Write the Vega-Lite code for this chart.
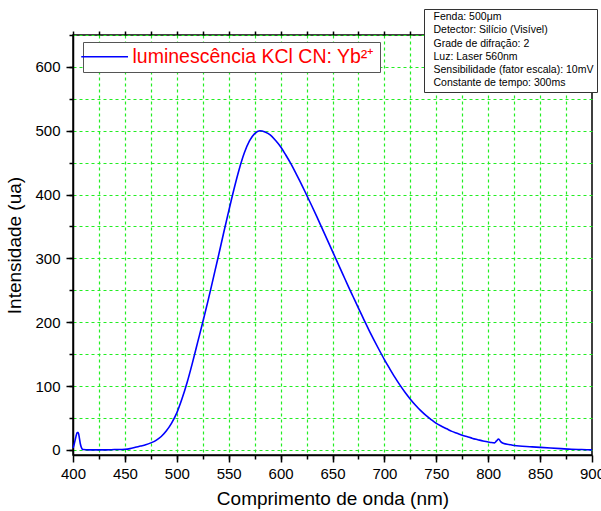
{
  "$schema": "https://vega.github.io/schema/vega-lite/v6.json",
  "autosize": "none",
  "width": 519,
  "height": 420,
  "padding": {"left": 73, "top": 35, "right": 9, "bottom": 56},
  "background": "white",
  "config": {
    "font": "Liberation Sans",
    "view": {"stroke": "black", "strokeWidth": 1.5},
    "axis": {"domainColor": "black", "tickColor": "black", "domainWidth": 1.5, "tickWidth": 1.5, "labelColor": "black", "titleColor": "black", "labelFont": "Liberation Sans", "titleFont": "Liberation Sans", "titleFontWeight": "normal", "labelFlush": false}
  },
  "datasets": {
    "spec": [
      {"wl": 400, "int": 3}, {"wl": 401, "int": 8}, {"wl": 402, "int": 15}, {"wl": 403, "int": 22},
      {"wl": 404, "int": 27}, {"wl": 405, "int": 27}, {"wl": 406, "int": 20}, {"wl": 407, "int": 10},
      {"wl": 408, "int": 4}, {"wl": 409, "int": 1}, {"wl": 410, "int": 0.5}, {"wl": 415, "int": 0},
      {"wl": 420, "int": 0}, {"wl": 430, "int": 0}, {"wl": 440, "int": 0.5}, {"wl": 450, "int": 1},
      {"wl": 455, "int": 2}, {"wl": 460, "int": 4}, {"wl": 465, "int": 6}, {"wl": 470, "int": 8},
      {"wl": 475, "int": 11}, {"wl": 480, "int": 15}, {"wl": 485, "int": 21}, {"wl": 490, "int": 30},
      {"wl": 495, "int": 42}, {"wl": 500, "int": 58}, {"wl": 505, "int": 80}, {"wl": 510, "int": 106},
      {"wl": 515, "int": 136}, {"wl": 520, "int": 168}, {"wl": 525, "int": 200}, {"wl": 530, "int": 233},
      {"wl": 535, "int": 268}, {"wl": 540, "int": 303}, {"wl": 545, "int": 339}, {"wl": 550, "int": 374},
      {"wl": 555, "int": 408}, {"wl": 560, "int": 439}, {"wl": 565, "int": 465}, {"wl": 570, "int": 484},
      {"wl": 575, "int": 495.5}, {"wl": 580, "int": 500}, {"wl": 585, "int": 498}, {"wl": 590, "int": 493.5},
      {"wl": 595, "int": 485}, {"wl": 600, "int": 475}, {"wl": 605, "int": 462}, {"wl": 610, "int": 448},
      {"wl": 615, "int": 432.5}, {"wl": 620, "int": 416.5}, {"wl": 625, "int": 399.5}, {"wl": 630, "int": 382.5},
      {"wl": 635, "int": 365}, {"wl": 640, "int": 347}, {"wl": 645, "int": 329}, {"wl": 650, "int": 311},
      {"wl": 655, "int": 293}, {"wl": 660, "int": 275}, {"wl": 665, "int": 257}, {"wl": 670, "int": 239.5},
      {"wl": 675, "int": 222}, {"wl": 680, "int": 205}, {"wl": 685, "int": 188}, {"wl": 690, "int": 172},
      {"wl": 695, "int": 156.5}, {"wl": 700, "int": 141.5}, {"wl": 705, "int": 127.5}, {"wl": 710, "int": 114},
      {"wl": 715, "int": 101.5}, {"wl": 720, "int": 90}, {"wl": 725, "int": 79.5}, {"wl": 730, "int": 70},
      {"wl": 735, "int": 61.5}, {"wl": 740, "int": 54}, {"wl": 745, "int": 47.5}, {"wl": 750, "int": 41.5},
      {"wl": 755, "int": 37}, {"wl": 760, "int": 33}, {"wl": 765, "int": 29}, {"wl": 770, "int": 26},
      {"wl": 775, "int": 23}, {"wl": 780, "int": 20.5}, {"wl": 785, "int": 18}, {"wl": 790, "int": 16},
      {"wl": 795, "int": 14}, {"wl": 800, "int": 12.5}, {"wl": 803, "int": 11.5}, {"wl": 806, "int": 11},
      {"wl": 808, "int": 14}, {"wl": 810, "int": 17}, {"wl": 812, "int": 13}, {"wl": 815, "int": 10},
      {"wl": 820, "int": 8.5}, {"wl": 825, "int": 7}, {"wl": 830, "int": 6}, {"wl": 840, "int": 5},
      {"wl": 850, "int": 4}, {"wl": 860, "int": 3}, {"wl": 870, "int": 2}, {"wl": 880, "int": 1},
      {"wl": 890, "int": 0.5}, {"wl": 900, "int": 0}
    ],
    "info": [
      {"info": "Fenda: 500μm"},
      {"info": "Detector: Silício (Visível)"},
      {"info": "Grade de difração: 2"},
      {"info": "Luz: Laser 560nm"},
      {"info": "Sensibilidade (fator escala): 10mV"},
      {"info": "Constante de tempo: 300ms"}
    ]
  },
  "resolve": {"axis": {"x": "independent", "y": "independent"}},
  "layer": [
    {
      "data": {"name": "spec"},
      "mark": {"type": "line", "strokeOpacity": 0},
      "encoding": {
        "x": {"field": "wl", "type": "quantitative", "scale": {"domain": [400, 900], "nice": false, "zero": false},
          "axis": {"orient": "bottom", "values": [425, 450, 475, 500, 525, 550, 575, 600, 625, 650, 675, 700, 725, 750, 775, 800, 825, 850, 875], "labels": false, "domain": false, "tickSize": 4, "title": null, "grid": true, "gridColor": "#22ee22", "gridDash": [3, 3], "gridWidth": 1.2, "gridOpacity": 1}},
        "y": {"field": "int", "type": "quantitative", "scale": {"domain": [-8, 650], "nice": false, "zero": false},
          "axis": {"orient": "left", "values": [0, 50, 100, 150, 200, 250, 300, 350, 400, 450, 500, 550, 600, 650], "labels": false, "domain": false, "tickSize": 4, "title": null, "grid": true, "gridColor": "#22ee22", "gridDash": [3, 3], "gridWidth": 1.2, "gridOpacity": 1}}
      }
    },
    {
      "data": {"name": "spec"},
      "mark": {"type": "line", "strokeOpacity": 0},
      "encoding": {
        "x": {"field": "wl", "type": "quantitative", "scale": {"domain": [400, 900], "nice": false, "zero": false},
          "axis": {"orient": "top", "values": [400, 425, 450, 475, 500, 525, 550, 575, 600, 625, 650, 675, 700, 725, 750, 775, 800, 825, 850, 875, 900], "labels": false, "domain": false, "tickSize": 4, "title": null, "grid": false}},
        "y": {"field": "int", "type": "quantitative", "scale": {"domain": [-8, 650], "nice": false, "zero": false}, "axis": null}
      }
    },
    {
      "data": {"name": "spec"},
      "mark": {"type": "line", "strokeWidth": 1.6, "interpolate": "monotone"},
      "encoding": {
        "x": {"field": "wl", "type": "quantitative", "scale": {"domain": [400, 900], "nice": false, "zero": false},
          "axis": {"orient": "bottom", "values": [400, 450, 500, 550, 600, 650, 700, 750, 800, 850, 900], "tickSize": 7, "labelFontSize": 15, "labelPadding": 4, "title": "Comprimento de onda (nm)", "titleFontSize": 19, "titlePadding": 8, "grid": false}},
        "y": {"field": "int", "type": "quantitative", "scale": {"domain": [-8, 650], "nice": false, "zero": false},
          "axis": {"orient": "left", "values": [0, 100, 200, 300, 400, 500, 600], "tickSize": 7, "labelFontSize": 15, "labelPadding": 6, "title": "Intensidade (ua)", "titleFontSize": 19, "titlePadding": 10, "grid": false}},
        "color": {"datum": "luminescência KCl CN: Yb²⁺", "type": "nominal",
          "scale": {"range": ["#0000ff"]},
          "legend": {"orient": "none", "legendX": 10, "legendY": 7, "title": null, "symbolType": "M-3,0H5.5", "symbolSize": 121, "symbolStrokeWidth": 1.6, "symbolFillColor": "transparent", "labelColor": "#ff0000", "labelFontSize": 19.5, "labelFont": "Liberation Sans", "labelOffset": 25, "labelLimit": 400, "strokeColor": "#555555", "padding": 5, "fillColor": "white"}}
      }
    },
    {
      "data": {"name": "info"},
      "mark": {"type": "point", "opacity": 0},
      "encoding": {
        "shape": {"field": "info", "type": "nominal",
          "scale": {"domain": ["Fenda: 500μm", "Detector: Silício (Visível)", "Grade de difração: 2", "Luz: Laser 560nm", "Sensibilidade (fator escala): 10mV", "Constante de tempo: 300ms"]},
          "legend": {"orient": "none", "legendX": 351, "legendY": -26, "title": null, "symbolSize": 0, "symbolOpacity": 0, "symbolStrokeWidth": 0, "labelOffset": -4, "labelFontSize": 10.5, "labelFont": "Liberation Sans", "labelColor": "black", "labelLimit": 400, "rowPadding": 2.2, "strokeColor": "#333333", "padding": 3, "fillColor": "white"}}
      }
    }
  ]
}
